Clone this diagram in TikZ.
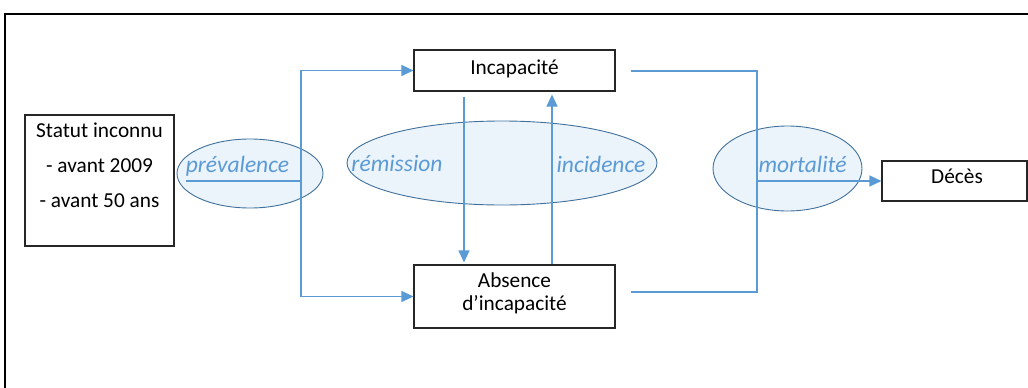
\documentclass[tikz,border=0pt]{standalone}
\usepackage{fontspec}
\setmainfont{Carlito}
\usetikzlibrary{arrows.meta,shapes.geometric}
\definecolor{lblue}{HTML}{5B9BD5}
\definecolor{eborder}{HTML}{41719C}
\definecolor{efill}{HTML}{EBF3FB}
\tikzset{
  box/.style={draw=black!85, line width=1.1pt, rectangle, inner sep=0pt},
  oval/.style={draw=eborder, fill=efill, line width=0.9pt, ellipse, inner sep=0pt},
  conn/.style={draw=lblue, line width=1.1pt},
  arr/.style={conn, -{Triangle[length=12pt,width=11pt]}},
  txt/.style={font=\fontsize{21.3}{25}\selectfont, text=black, inner sep=0pt, anchor=base},
  lbl/.style={font=\fontsize{23.5}{27}\selectfont\itshape, text=lblue, inner sep=0pt, anchor=base},
}
\begin{document}
\begin{tikzpicture}[x=1pt,y=-1pt]
\useasboundingbox (0,0) rectangle (1028,388);
% frame
\draw[line width=1.5pt] (5,388) -- (5,14) -- (1028,14);
% ellipses
\node[oval, minimum width=146pt, minimum height=69pt] (eprev) at (250,173.5) {};
\node[oval, minimum width=310pt, minimum height=84pt] (erem) at (502,163) {};
\node[oval, minimum width=149pt, minimum height=85pt] (emort) at (787.5,168.5) {};
% boxes
\node[box, minimum width=149pt, minimum height=131pt] (statut) at (99.5,180.5) {};
\node[box, minimum width=201pt, minimum height=41pt] (inc) at (514.5,70.5) {};
\node[box, minimum width=201pt, minimum height=63pt] (abs) at (514.5,296.5) {};
\node[box, minimum width=145pt, minimum height=40pt] (deces) at (954.5,181) {};
% box texts
\node[txt] (s1) at (99.5,137) {Statut inconnu};
\node[txt] (s2) at (99.5,172) {- avant 2009};
\node[txt] (s3) at (99.5,207) {- avant 50 ans};
\node[txt] (tinc) at (514.5,74) {Incapacité};
\node[txt] (tabs1) at (514.5,287) {Absence};
\node[txt] (tabs2) at (514.5,310) {d’incapacité};
\node[txt] (tdec) at (957,183) {Décès};
% connectors
\coordinate (pstart) at (186,181);
\coordinate (pj) at (301,181);
\draw[conn] (pstart) -- (pj);
\draw[arr] (pj) |- (inc.west);
\draw[arr] (pj) |- (abs.west);
\draw[arr, shorten <=5pt, shorten >=2pt] ([xshift=-50.5pt]inc.south) -- ([xshift=-50.5pt]abs.north);
\draw[arr, shorten >=3pt] ([xshift=37.5pt]abs.north) -- ([xshift=37.5pt]inc.south);
\coordinate (mtop) at (757,71);
\coordinate (mbot) at (757,292);
\coordinate (mj) at (757,181);
\draw[conn] ([xshift=15pt,yshift=-0.5pt]inc.east) -- (mtop) -- (mbot) -- ([xshift=15pt,yshift=4.5pt]abs.east);
\draw[arr] (mj) -- (deces.west);
% labels
\node[lbl] (lprev) at (237.5,172) {prévalence};
\node[lbl] (lrem) at (397,171) {rémission};
\node[lbl] (linc) at (601,172) {incidence};
\node[lbl] (lmort) at (802.5,172) {mortalité};
\end{tikzpicture}
\end{document}
